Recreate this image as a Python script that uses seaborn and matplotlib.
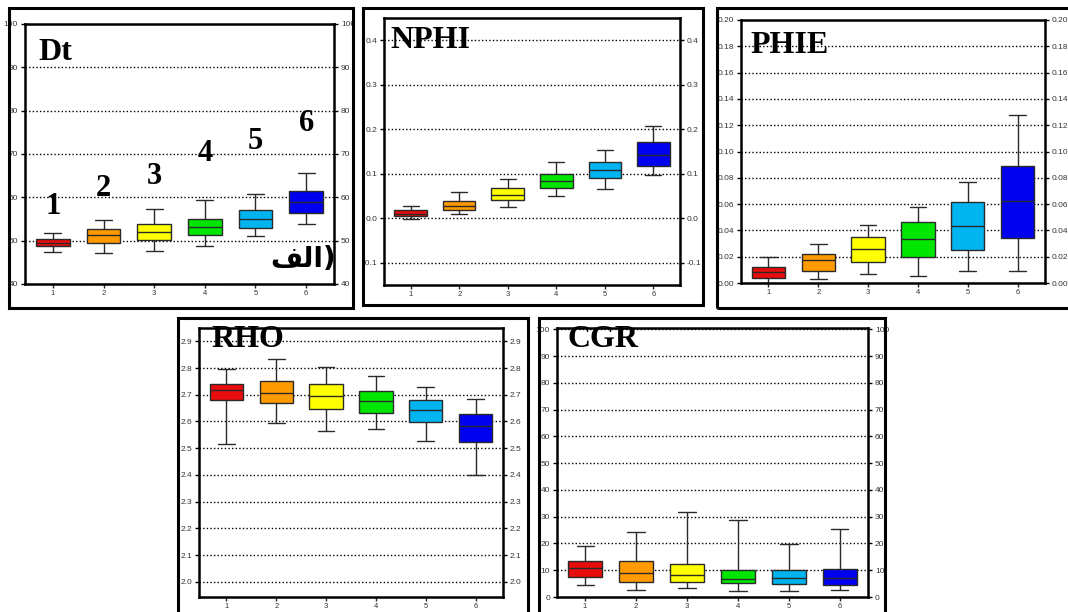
import numpy as np
import pandas as pd
import matplotlib
matplotlib.use("Agg")
import matplotlib.pyplot as plt
from matplotlib.patches import Rectangle
from matplotlib.ticker import FormatStrFormatter, MultipleLocator
import seaborn as sns

# five-number summaries per zone (min, Q1, median, Q3, max)
groups = ["1", "2", "3", "4", "5", "6"]

dt_stats = [
    [47.5, 48.8, 49.5, 50.4, 51.7],
    [47.2, 49.5, 51.3, 52.8, 54.8],
    [47.7, 50.2, 52.1, 53.8, 57.2],
    [48.8, 51.2, 53.2, 54.9, 59.5],
    [51.1, 53.0, 55.0, 57.0, 60.7],
    [53.8, 56.5, 59.0, 61.5, 65.7],
]
nphi_stats = [
    [-0.001, 0.004, 0.010, 0.018, 0.028],
    [0.009, 0.019, 0.028, 0.039, 0.060],
    [0.025, 0.040, 0.053, 0.067, 0.089],
    [0.049, 0.067, 0.084, 0.099, 0.126],
    [0.065, 0.090, 0.108, 0.126, 0.153],
    [0.097, 0.118, 0.143, 0.171, 0.208],
]
phie_stats = [
    [0.000, 0.0038, 0.0081, 0.0119, 0.0197],
    [0.003, 0.0091, 0.0172, 0.0223, 0.0296],
    [0.0066, 0.016, 0.0261, 0.0347, 0.0443],
    [0.0056, 0.0197, 0.0334, 0.0463, 0.0577],
    [0.0094, 0.0253, 0.043, 0.0613, 0.0765],
    [0.0094, 0.0339, 0.0625, 0.0886, 0.128],
]
rho_stats = [
    [2.515, 2.682, 2.717, 2.739, 2.797],
    [2.596, 2.668, 2.705, 2.752, 2.834],
    [2.564, 2.647, 2.696, 2.739, 2.803],
    [2.571, 2.632, 2.678, 2.716, 2.770],
    [2.528, 2.599, 2.643, 2.682, 2.730],
    [2.401, 2.523, 2.584, 2.629, 2.686],
]
cgr_stats = [
    [4.5, 7.6, 10.9, 13.4, 18.9],
    [2.7, 5.7, 9.1, 13.4, 24.1],
    [3.2, 5.6, 8.2, 12.5, 31.6],
    [2.2, 5.3, 6.9, 10.2, 28.7],
    [2.2, 4.8, 7.2, 10.2, 19.7],
    [2.7, 4.5, 7.2, 10.5, 25.3],
]

zone_colors = ["#e80c0c", "#ff9a00", "#ffff00", "#00e600", "#00b4f0", "#0000f0"]

# numbers written above the Dt boxes (height in Dt units)
dt_label_y = [57.8, 62.0, 64.7, 70.1, 72.8, 77.0]
arabic_label = "\ufed2\ufedf\ufe8d)"  # "الف)" in visual order (matplotlib does no shaping)

sns.set_theme(style="white")
plt.rcParams["font.family"] = ["Liberation Sans", "DejaVu Sans"]

W, H = 1068, 612
fig = plt.figure(figsize=(W / 100, H / 100), dpi=100)


def px_axes(left, top, right, bottom):
    return fig.add_axes([left / W, 1 - bottom / H, (right - left) / W, (bottom - top) / H])


def frame(left, top, right, bottom):
    fig.patches.append(Rectangle((left / W, 1 - bottom / H), (right - left) / W,
                                 (bottom - top) / H, transform=fig.transFigure,
                                 fill=False, edgecolor="black", linewidth=2.2))


def to_long(stats):
    rows = []
    for g, s in zip(groups, stats):
        for v in s:
            rows.append((g, v))
    return pd.DataFrame(rows, columns=["zone", "value"])


def panel(ax, stats, title, ylim, step, fmt, title_pos):
    df = to_long(stats)
    sns.boxplot(data=df, x="zone", y="value", hue="zone", palette=zone_colors,
                saturation=1, legend=False, whis=(0, 100), width=0.67,
                linecolor="#2a2a2a", linewidth=1.0, ax=ax)
    ax.set_xlim(-0.55, 5.55)
    ax.set_ylim(*ylim)
    ax.yaxis.set_major_locator(MultipleLocator(step))
    ax.yaxis.set_major_formatter(FormatStrFormatter(fmt))
    ax.set_xlabel("")
    ax.set_ylabel("")
    ax.grid(axis="y", color="black", linestyle=(0, (1, 1.6)), linewidth=1.0)
    ax.set_axisbelow(True)
    for sp in ax.spines.values():
        sp.set_visible(True)
        sp.set_color("black")
        sp.set_linewidth(1.8)
    ax.tick_params(axis="y", left=True, right=True, labelright=True, direction="out",
                   length=3, width=1, labelsize=6, colors="black", labelcolor="#333333", pad=2)
    ax.tick_params(axis="x", bottom=True, direction="out", length=3, width=1,
                   labelsize=5.5, labelcolor="#333333", pad=1)
    ax.text(title_pos[0], title_pos[1], title, transform=ax.transAxes, ha="left", va="top",
            fontsize=23, fontweight="bold", family=["Liberation Serif", "DejaVu Serif"],
            color="black", zorder=6)


# frames around each panel
frame(9, 8, 353, 308)
frame(363, 8, 703, 305)
frame(717, 8, 1075, 308)
frame(178, 318, 528, 620)
frame(539, 318, 885, 620)

ax_dt = px_axes(25, 24, 334, 284)
panel(ax_dt, dt_stats, "Dt", (40, 100), 10, "%d", (0.045, 0.945))
for i, y in enumerate(dt_label_y):
    ax_dt.text(i, y, groups[i], ha="center", va="center", fontsize=22, fontweight="bold",
               family=["Liberation Serif", "DejaVu Serif"], color="black")
ax_dt.text(0.9, 0.095, arabic_label, transform=ax_dt.transAxes, ha="center", va="center",
           fontsize=20, fontweight="bold", family=["DejaVu Sans"], color="black")

ax_nphi = px_axes(384, 18, 680, 285)
panel(ax_nphi, nphi_stats, "NPHI", (-0.15, 0.45), 0.1, "%.1f", (0.02, 0.97))

ax_phie = px_axes(741, 20, 1045, 283)
panel(ax_phie, phie_stats, "PHIE", (0, 0.2), 0.02, "%.2f", (0.03, 0.96))

ax_rho = px_axes(199, 328, 503, 597)
panel(ax_rho, rho_stats, "RHO", (1.943, 2.95), 0.1, "%.1f", (0.04, 1.01))

ax_cgr = px_axes(557, 328, 868, 597)
panel(ax_cgr, cgr_stats, "CGR", (0, 100.5), 10, "%d", (0.035, 1.01))

fig.savefig("out.png", dpi=100)
